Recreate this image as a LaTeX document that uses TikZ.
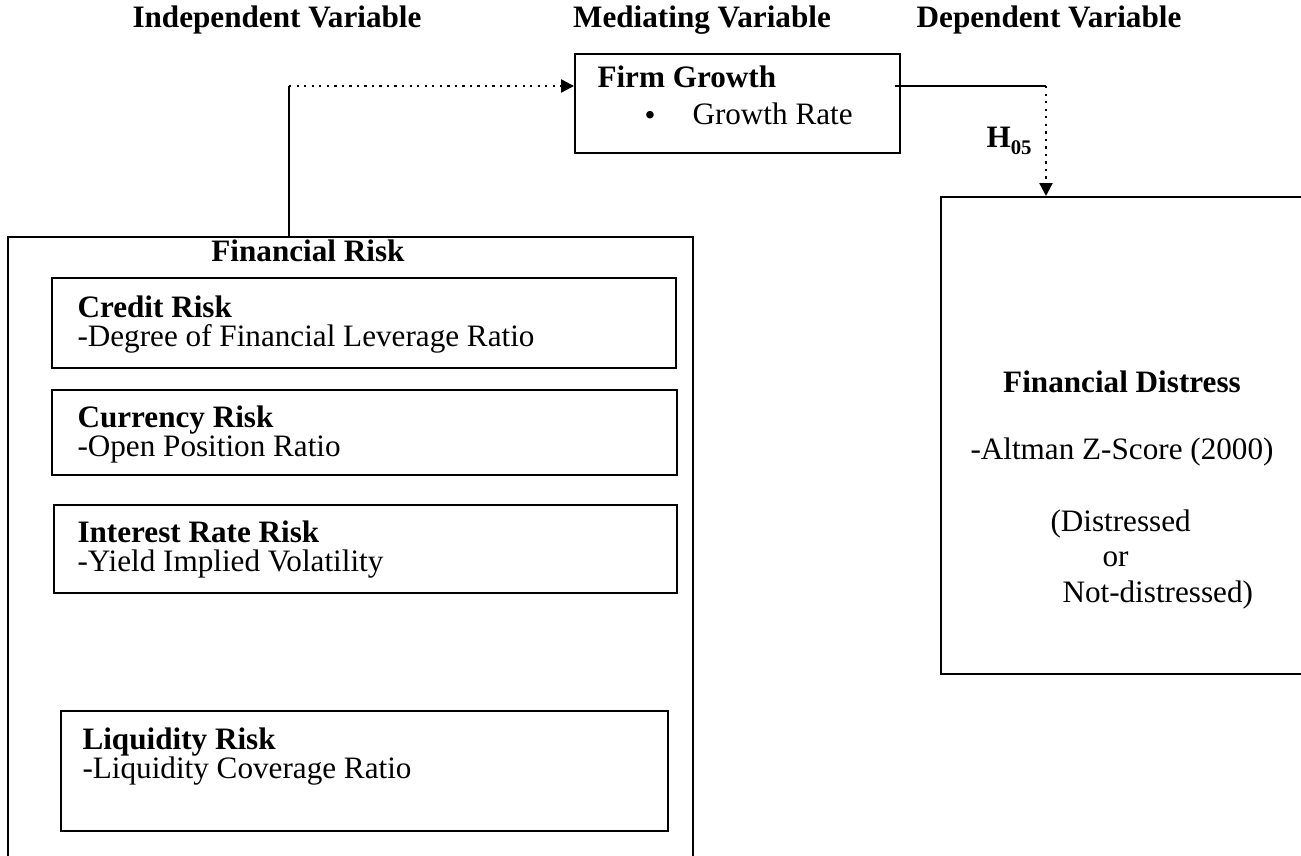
\documentclass[tikz,border=0pt]{standalone}
\usepackage{fontspec}
\setmainfont{Liberation Serif}
\usetikzlibrary{fit,arrows.meta}
\begin{document}
\begin{tikzpicture}[x=0.385pt,y=-0.385pt,
  box/.style={draw, line width=0.75pt, inner sep=0pt},
  txt/.style={inner sep=0pt, anchor=base west, font=\fontsize{12}{14}\selectfont},
  btxt/.style={txt, font=\fontsize{12}{14}\selectfont\bfseries},
  head/.style={inner sep=0pt, anchor=base, font=\fontsize{12}{14}\selectfont\bfseries},
  conn/.style={line width=0.75pt},
  dconn/.style={line width=0.9pt, dotted, -{Triangle[length=5pt,width=5pt]}}]
\useasboundingbox (0,0) rectangle (1301,856);
\clip (0,0) rectangle (1301,856);
% headers
\node[head] (h1) at (277,28) {Independent Variable};
\node[head] (h2) at (702,28) {Mediating Variable};
\node[head] (h3) at (1049,28) {Dependent Variable};
% firm growth
\node[box, fit={(575,54) (900,153)}] (fg) {};
\node[btxt] (fgt) at (597,88) {Firm Growth};
\node[inner sep=0pt] (bul) at (650,118) {\fontsize{12}{14}\selectfont\textbullet};
\node[txt] (fgr) at (692,125) {Growth Rate};
% financial risk outer
\node[box, fit={(8,237) (693,900)}] (fr) {};
\node[head] (frt) at (308,262) {Financial Risk};
% inner boxes
\node[box, fit={(52,278) (676,368)}] (cr) {};
\node[btxt] at (77,318) {Credit Risk};
\node[txt] at (77,347) {-Degree of Financial Leverage Ratio};
\node[box, fit={(52,390) (677,475)}] (cu) {};
\node[btxt] at (77,428) {Currency Risk};
\node[txt] at (77,457) {-Open Position Ratio};
\node[box, fit={(54,505) (677,593)}] (ir) {};
\node[btxt] at (77,543) {Interest Rate Risk};
\node[txt] at (77,572) {-Yield Implied Volatility};
\node[box, fit={(61,711) (668,831)}] (lr) {};
\node[btxt] at (82,750) {Liquidity Risk};
\node[txt] at (82,779) {-Liquidity Coverage Ratio};
% financial distress
\node[box, fit={(941,197) (1340,674)}] (fd) {};
\node[head] at (1122,393) {Financial Distress};
\node[txt] at (970,460) {-Altman Z-Score (2000)};
\node[txt] at (1050,532) {(Distressed};
\node[txt] at (1102,567) {or};
\node[txt] at (1062,603) {Not-distressed)};
% connectors
\coordinate (c1) at (289,86);
\draw[conn] (fr.north -| c1) -- (c1);
\draw[dconn] (c1) -- (fg.west |- c1);
\coordinate (c2a) at (895,86);
\coordinate (c2) at (1046,86);
\draw[conn] (c2a) -- (c2);
\draw[dconn] (c2) -- (fd.north -| c2);
\node[btxt] (hyp) at (986,148) {H{\fontsize{8}{9}\selectfont\raisebox{-2.5pt}{05}}};
\end{tikzpicture}
\end{document}
